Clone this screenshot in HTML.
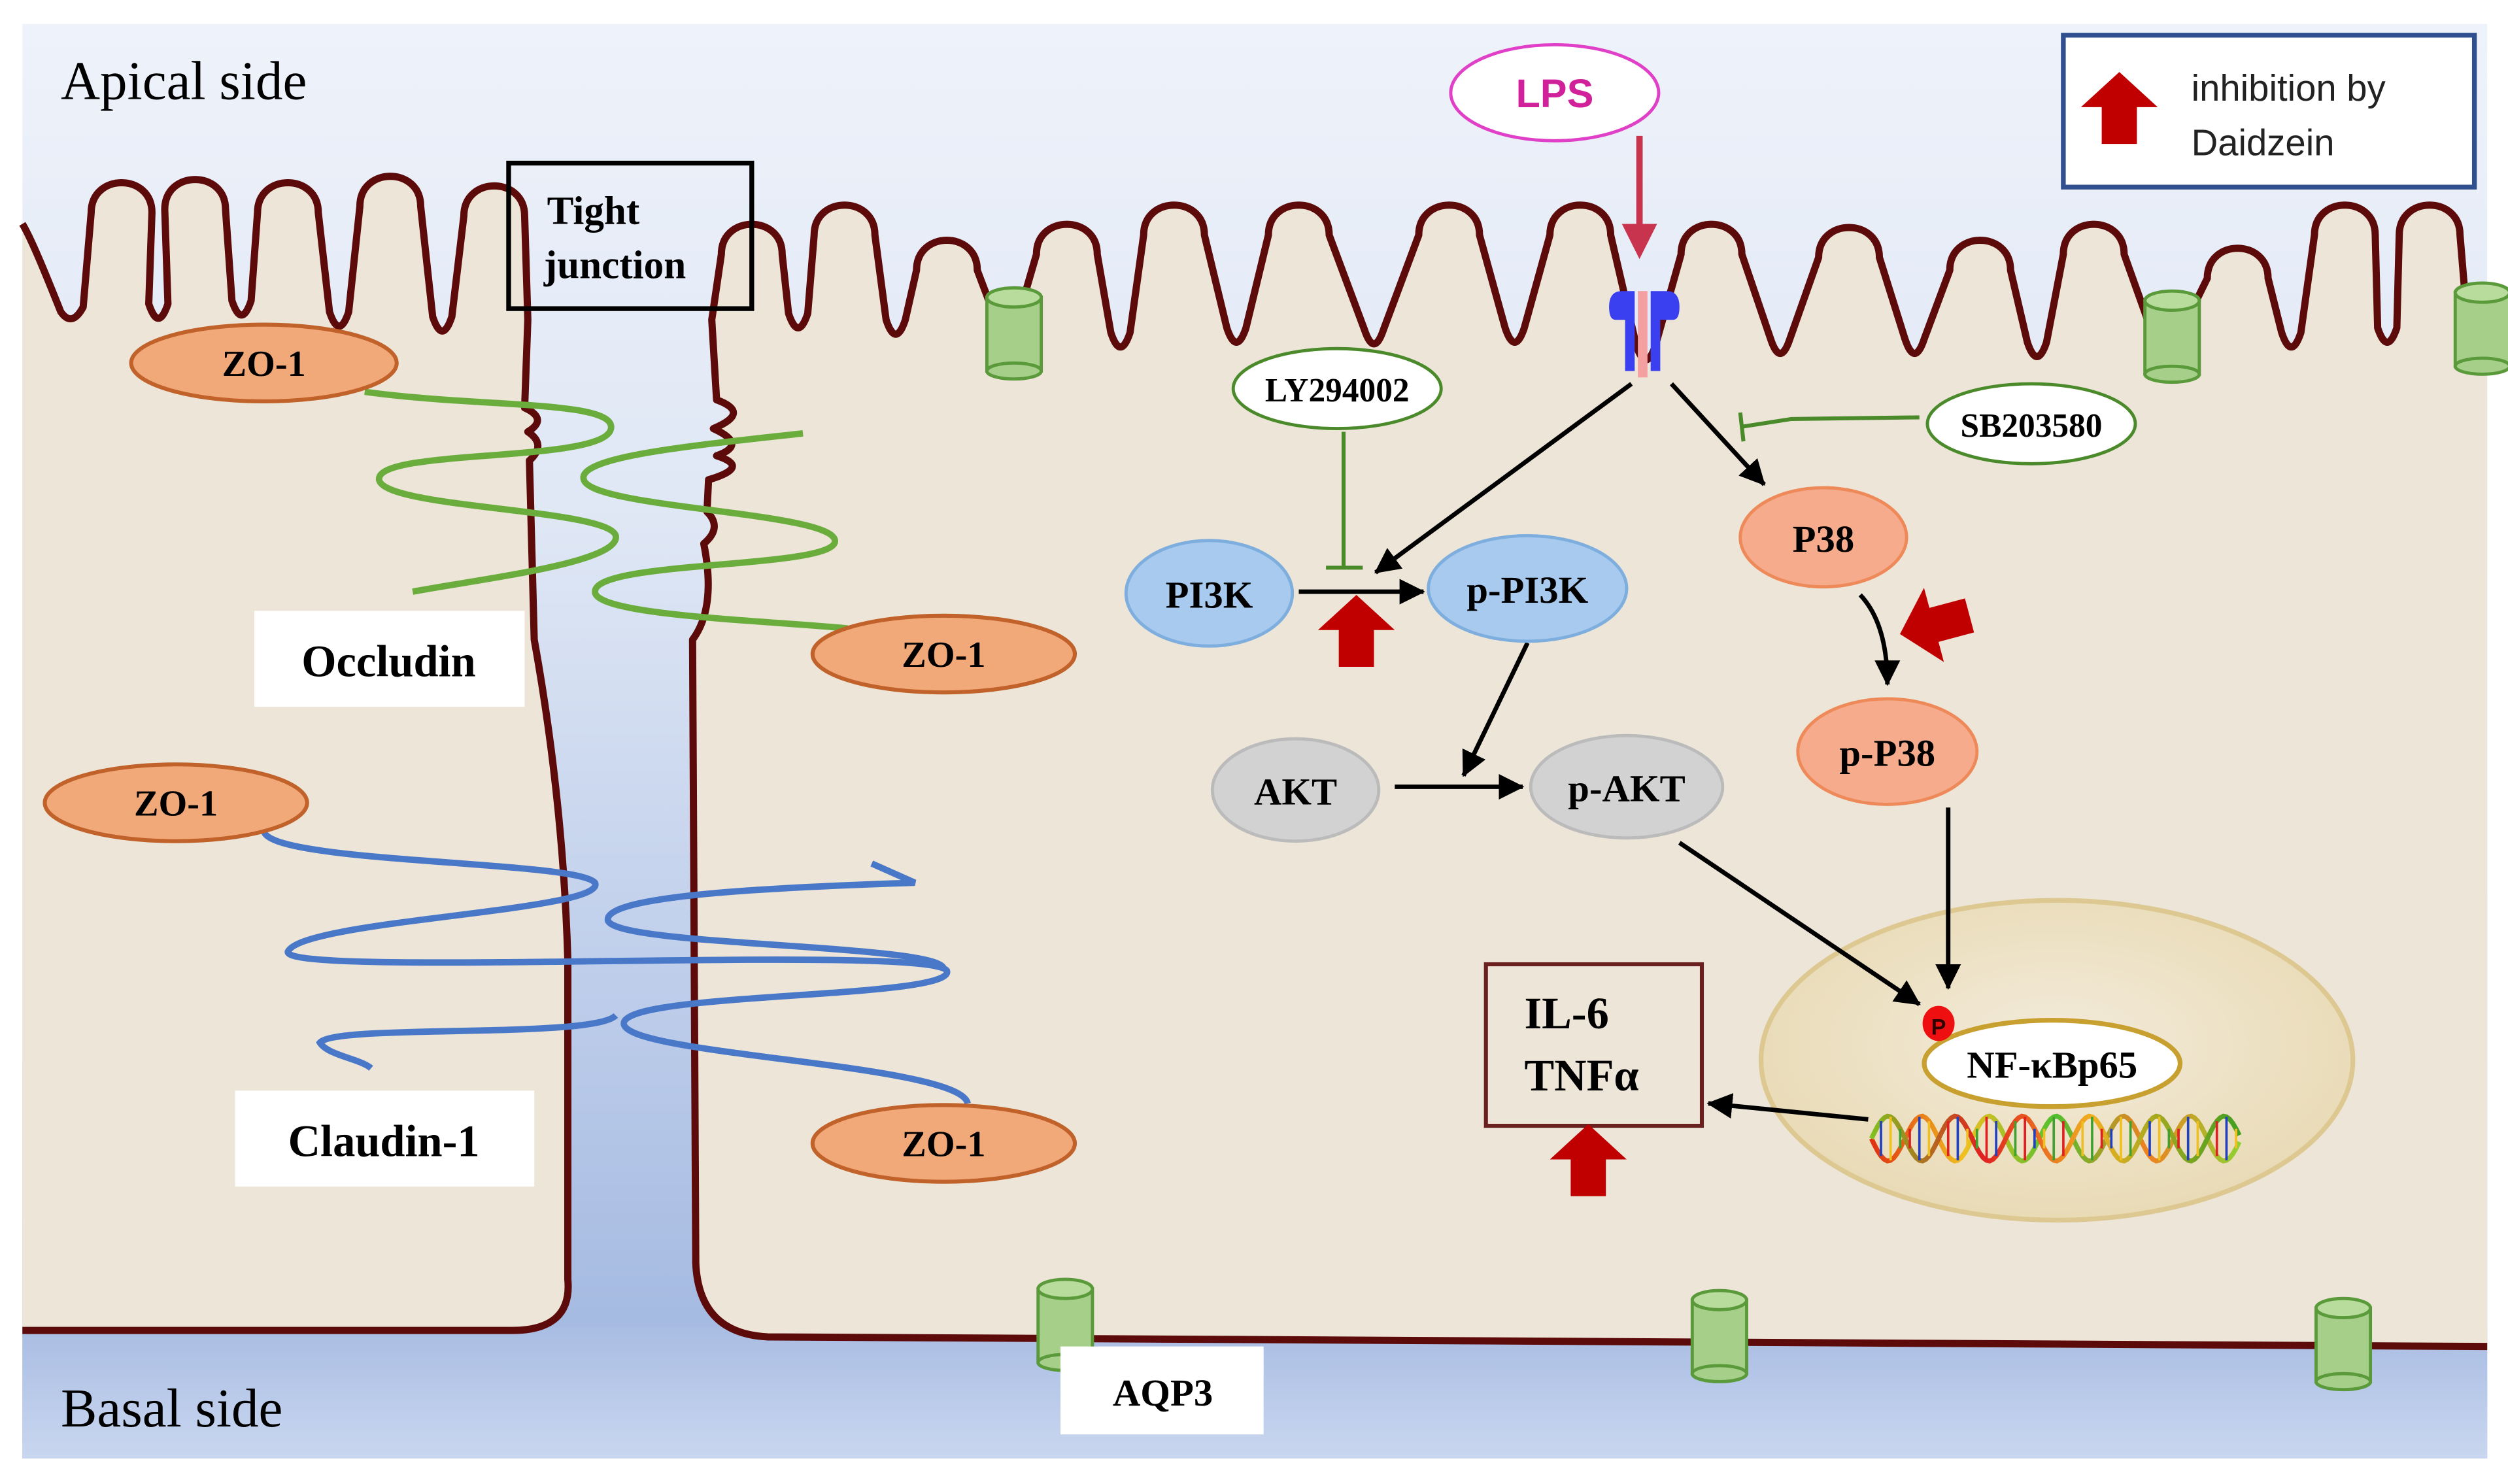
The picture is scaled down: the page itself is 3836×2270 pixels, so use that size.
<!DOCTYPE html>
<html><head><meta charset="utf-8"><style>
html,body{margin:0;padding:0;background:#fff;width:3836px;height:2270px;overflow:hidden}
svg{display:block}
.s{font-family:"Liberation Serif",serif;font-weight:bold;fill:#000}
</style></head><body>
<svg id="sv" width="3836" height="2270" viewBox="0 0 1568 928" preserveAspectRatio="none" xmlns="http://www.w3.org/2000/svg">
<defs>
<linearGradient id="bg" x1="0" y1="0" x2="0" y2="1">
<stop offset="0" stop-color="#eef2fa"/><stop offset="0.35" stop-color="#dfe7f5"/><stop offset="0.9" stop-color="#a6bbe2"/><stop offset="1" stop-color="#9fb5e0"/></linearGradient>
<linearGradient id="bs" x1="0" y1="0" x2="0" y2="1"><stop offset="0" stop-color="#a9bde3"/><stop offset="1" stop-color="#c9d6ef"/></linearGradient>
<radialGradient id="nuc" cx="0.5" cy="0.45" r="0.6"><stop offset="0" stop-color="#f3ebdb"/><stop offset="1" stop-color="#e8d9b2"/></radialGradient>
<linearGradient id="dna" x1="0" y1="0" x2="1" y2="0"><stop offset="0" stop-color="#e03010"/><stop offset="0.25" stop-color="#f0c020"/><stop offset="0.5" stop-color="#50c030"/><stop offset="0.75" stop-color="#f08020"/><stop offset="1" stop-color="#90d030"/></linearGradient>
<linearGradient id="dna2" x1="0" y1="0" x2="1" y2="0"><stop offset="0" stop-color="#80c020"/><stop offset="0.3" stop-color="#e02020"/><stop offset="0.6" stop-color="#f0b020"/><stop offset="1" stop-color="#40a020"/></linearGradient>
<marker id="ahb" markerWidth="16" markerHeight="16" refX="15" refY="8" orient="auto" markerUnits="userSpaceOnUse" viewBox="0 0 16 16"><path d="M0,0 L16,8 L0,16 Z" fill="#000"/></marker>
<g id="cyl"><rect x="-17" y="-22" width="34" height="46" fill="#a6d08a" stroke="#5a9a3a" stroke-width="2"/><ellipse cx="0" cy="-22" rx="17" ry="6" fill="#b8dc9c" stroke="#5a9a3a" stroke-width="2"/><ellipse cx="0" cy="24" rx="17" ry="5" fill="#a6d08a" stroke="#5a9a3a" stroke-width="2"/></g>
<path id="rar" d="M0,-25 L24,-3 L11,-3 L11,20 L-11,20 L-11,-3 L-24,-3 Z" fill="#c00000"/>
</defs>
<rect x="14" y="15" width="1541" height="897" fill="url(#bg)"/>
<rect x="14" y="830" width="1541" height="82" fill="url(#bs)"/>
<path id="lcf" fill="#ede5d8" stroke="none"/>
<path id="rcf" fill="#ede5d8" stroke="none"/>
<path id="lcs" fill="none" stroke="#5c0a0a" stroke-width="4.5" stroke-linejoin="round"/>
<path id="rcs" fill="none" stroke="#5c0a0a" stroke-width="4.5" stroke-linejoin="round"/>

<use href="#cyl" x="634" y="208"/><use href="#cyl" x="1358" y="210"/><use href="#cyl" x="1552" y="205"/>
<use href="#cyl" x="666" y="828"/><use href="#cyl" x="1075" y="835"/><use href="#cyl" x="1465" y="840"/>

<rect x="318" y="102" width="152" height="91" fill="none" stroke="#000" stroke-width="3"/>
<text class="s" x="342" y="140" font-size="25">Tight</text>
<text class="s" x="340" y="174" font-size="25">junction</text>

<g fill="none" stroke="#6aad3c" stroke-width="4">
<path d="M228,245 C300,255 385,250 382,268 C378,290 235,280 237,300 C240,318 380,318 385,335 C388,352 300,362 258,370"/>
<path d="M502,271 C440,278 360,285 365,300 C370,318 520,320 522,338 C524,356 372,350 372,370 C372,385 480,388 530,393"/>
</g>
<g fill="none" stroke="#4a78c8" stroke-width="4">
<path d="M165,520 C170,540 360,538 372,552 C380,570 190,575 180,595 C175,612 580,590 592,607 C598,625 390,620 390,640 C390,660 600,665 605,690"/>
<path d="M545,540 L572,552 C480,555 380,560 380,575 C380,592 590,590 590,606 M385,635 C370,650 210,640 200,652 C205,660 225,662 232,668"/>
</g>

<g fill="#f2a97a" stroke="#c0622a" stroke-width="2.5">
<ellipse cx="165" cy="227" rx="83" ry="24"/><ellipse cx="590" cy="409" rx="82" ry="24"/>
<ellipse cx="110" cy="502" rx="82" ry="24"/><ellipse cx="590" cy="715" rx="82" ry="24"/></g>
<g class="s" font-size="23" text-anchor="middle">
<text x="165" y="235">ZO-1</text><text x="590" y="417">ZO-1</text><text x="110" y="510">ZO-1</text><text x="590" y="723">ZO-1</text></g>

<rect x="159" y="382" width="169" height="60" fill="#fff"/>
<text class="s" x="243" y="423" font-size="28" text-anchor="middle">Occludin</text>
<rect x="147" y="682" width="187" height="60" fill="#fff"/>
<text class="s" x="240" y="723" font-size="28" text-anchor="middle">Claudin-1</text>
<rect x="663" y="842" width="127" height="55" fill="#fff"/>
<text class="s" x="727" y="879" font-size="24" text-anchor="middle">AQP3</text>

<text x="38" y="62" font-family="Liberation Serif,serif" font-size="34" fill="#000">Apical side</text>
<text x="38" y="892" font-family="Liberation Serif,serif" font-size="34" fill="#000">Basal side</text>

<ellipse cx="972" cy="58" rx="65" ry="30" fill="#fff" stroke="#e040c8" stroke-width="2"/>
<text x="972" y="67" font-family="Liberation Sans,sans-serif" font-weight="bold" font-size="25" fill="#d0209a" text-anchor="middle">LPS</text>
<line x1="1025" y1="85" x2="1025" y2="145" stroke="#c8344e" stroke-width="4"/>
<path d="M1014,140 L1036,140 L1025,162 Z" fill="#c8344e"/>

<rect x="1024" y="182" width="6" height="54" fill="#f4a0a0"/>
<path d="M1006,192 Q1006,182 1014,182 L1022,182 L1022,232 L1016,232 L1016,200 L1010,200 Q1006,200 1006,192 Z" fill="#3a40f0"/>
<path d="M1050,192 Q1050,182 1042,182 L1032,182 L1032,232 L1038,232 L1038,200 L1046,200 Q1050,200 1050,192 Z" fill="#3a40f0"/>

<rect x="1290" y="22" width="257" height="95" fill="#fff" stroke="#2f4f8f" stroke-width="3"/>
<use href="#rar" x="1325" y="70"/>
<text x="1370" y="63" font-family="Liberation Sans,sans-serif" font-size="23" fill="#222">inhibition by</text>
<text x="1370" y="97" font-family="Liberation Sans,sans-serif" font-size="23" fill="#222">Daidzein</text>

<ellipse cx="836" cy="243" rx="65" ry="25" fill="#fff" stroke="#4a8a2a" stroke-width="2"/>
<text class="s" x="836" y="251" font-size="21" text-anchor="middle">LY294002</text>
<ellipse cx="1270" cy="265" rx="65" ry="25" fill="#fff" stroke="#4a8a2a" stroke-width="2"/>
<text class="s" x="1270" y="273" font-size="21" text-anchor="middle">SB203580</text>
<g stroke="#4a8a2a" stroke-width="2.5" fill="none">
<line x1="840" y1="270" x2="840" y2="355"/><line x1="829" y1="355" x2="852" y2="355"/>
<path d="M1200,261 L1120,262 L1088,267"/><line x1="1088" y1="258" x2="1090" y2="276"/>
</g>

<ellipse cx="1286" cy="663" rx="185" ry="100" fill="url(#nuc)" stroke="#dcc890" stroke-width="3"/>

<g stroke="#000" stroke-width="2.8" fill="none" marker-end="url(#ahb)">
<line x1="1020" y1="240" x2="860" y2="358"/>
<line x1="1045" y1="240" x2="1103" y2="303"/>
<line x1="812" y1="370" x2="890" y2="370"/>
<line x1="955" y1="402" x2="915" y2="485"/>
<line x1="872" y1="492" x2="952" y2="492"/>
<line x1="1050" y1="527" x2="1200" y2="628"/>
<line x1="1218" y1="505" x2="1218" y2="618"/>
<path d="M1163,372 Q1180,390 1180,428"/>
<line x1="1168" y1="700" x2="1068" y2="690"/>
</g>

<g stroke-width="2">
<ellipse cx="756" cy="371" rx="52" ry="33" fill="#a8caee" stroke="#7eaede"/>
<ellipse cx="955" cy="368" rx="62" ry="33" fill="#a8caee" stroke="#7eaede"/>
<ellipse cx="810" cy="494" rx="52" ry="32" fill="#d2d2d2" stroke="#bbbbbb"/>
<ellipse cx="1017" cy="492" rx="60" ry="32" fill="#d2d2d2" stroke="#bbbbbb"/>
<ellipse cx="1140" cy="336" rx="52" ry="31" fill="#f5ab8c" stroke="#ee8a5a"/>
<ellipse cx="1180" cy="470" rx="56" ry="33" fill="#f5ab8c" stroke="#ee8a5a"/>
</g>
<g class="s" font-size="24" text-anchor="middle">
<text x="756" y="380">PI3K</text><text x="955" y="377">p-PI3K</text>
<text x="810" y="503">AKT</text><text x="1017" y="501">p-AKT</text>
<text x="1140" y="345">P38</text><text x="1180" y="479">p-P38</text></g>

<ellipse cx="1283" cy="665" rx="80" ry="27" fill="#fff" stroke="#c8a030" stroke-width="3"/>
<text class="s" x="1283" y="674" font-size="24" text-anchor="middle">NF-κBp65</text>
<ellipse cx="1212" cy="640" rx="10" ry="11" fill="#ee1010"/>
<text x="1212" y="647" font-family="Liberation Sans,sans-serif" font-weight="bold" font-size="14" fill="#300" text-anchor="middle">P</text>
<path id="d1" fill="none" stroke="url(#dna)" stroke-width="3"/>
<path id="d2" fill="none" stroke="url(#dna2)" stroke-width="3"/>
<g id="rungs" stroke-width="1.5"></g>

<rect x="929" y="603" width="135" height="101" fill="#ede5d8" stroke="#6b2020" stroke-width="2.5"/>
<text class="s" x="953" y="643" font-size="28">IL-6</text>
<text class="s" x="953" y="682" font-size="28">TNFα</text>

<use href="#rar" x="848" y="397"/>
<use href="#rar" x="993" y="728"/>
<use href="#rar" transform="translate(1212,390) rotate(-105)"/>
</svg>
<script>
function fingers(tops,ytop,yb,w){
 var d="";
 for(var i=0;i<tops.length;i++){
  var t=tops[i],yt=ytop[i];
  d+=" L"+(t-w)+","+(yt+w)+" C"+(t-w)+","+(yt-6)+" "+(t+w)+","+(yt-6)+" "+(t+w)+","+(yt+w);
  if(i<tops.length-1){var bx=(t+tops[i+1])/2,y=yb[i];
   d+=" L"+(bx-6)+","+(y-10)+" Q"+bx+","+(y+8)+" "+(bx+6)+","+(y-10);}
 }
 return d;
}
var L="M14,140 C20,150 30,175 38,195 Q45,205 52,192"+fingers([76,122,180,244,309],[114,112,114,110,116],[200,198,205,208],19)+
 " L330,200 L328,255 Q343,262 330,270 Q342,278 331,288 L334,400 Q352,500 355,600 L355,800 Q358,832 320,832 L14,832";
document.getElementById("lcs").setAttribute("d",L);
document.getElementById("lcf").setAttribute("d",L+" Z");
var R="M1555,842 L480,836 Q437,834 435,790 L433,400 Q448,380 440,340 Q452,330 442,320 L443,300 Q470,292 448,285 Q468,278 446,268 Q470,258 448,250 L445,200"+
 fingers([470,528,592,667,734,812,906,988,1070,1156,1238,1309,1399,1466,1519],[140,128,150,140,128,128,128,128,140,142,150,140,155,128,128],[206,210,212,218,215,216,215,226,222,222,224,225,218,215],19)+
 " L1542,195 L1555,205";
document.getElementById("rcs").setAttribute("d",R);
document.getElementById("rcf").setAttribute("d",R+" Z");
var d1="",d2="",r="",x0=1170,x1=1400,cy=712,A=14,P=42;
var cols=["#e02020","#2040c0","#f0c020","#40a030"];
for(var x=x0,k=0;x<=x1;x+=2,k++){
 var a=Math.sin((x-x0)/P*2*Math.PI),b=-a;
 d1+=(x==x0?"M":"L")+x+","+(cy+A*a).toFixed(1)+" ";
 d2+=(x==x0?"M":"L")+x+","+(cy+A*b).toFixed(1)+" ";
 if(k%3==0) r+='<line x1="'+x+'" y1="'+(cy+A*a).toFixed(1)+'" x2="'+x+'" y2="'+(cy+A*b).toFixed(1)+'" stroke="'+cols[(k/3)%4]+'"/>';
}
document.getElementById("d1").setAttribute("d",d1);
document.getElementById("d2").setAttribute("d",d2);
document.getElementById("rungs").innerHTML=r;
</script>
</body></html>
